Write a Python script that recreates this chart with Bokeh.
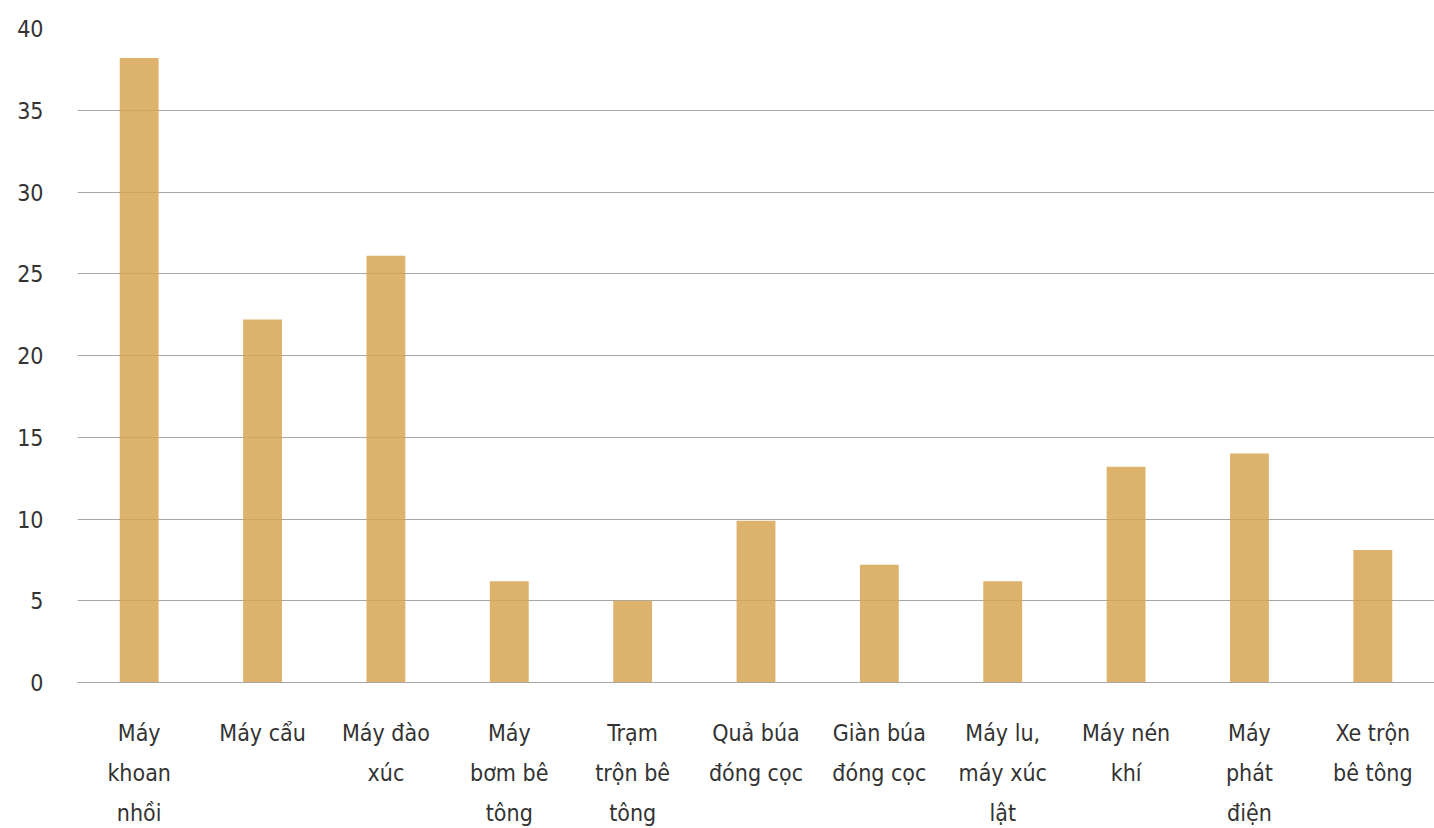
from bokeh.plotting import figure
from bokeh.models import FactorRange, Range1d, FixedTicker
from bokeh.embed import file_html
from bokeh.resources import INLINE

categories = ["Máy\nkhoan\nnhồi", "Máy cẩu", "Máy đào\nxúc", "Máy\nbơm bê\ntông",
              "Trạm\ntrộn bê\ntông", "Quả búa\nđóng cọc", "Giàn búa\nđóng cọc",
              "Máy lu,\nmáy xúc\nlật", "Máy nén\nkhí", "Máy\nphát\nđiện", "Xe trộn\nbê tông"]
values = [38.2, 22.2, 26.1, 6.2, 5.0, 9.9, 7.2, 6.2, 13.2, 14.0, 8.1]
y_ticks = [0, 5, 10, 15, 20, 25, 30, 35, 40]

FONT = "DejaVu Sans Condensed"

p = figure(x_range=FactorRange(*categories, range_padding=0), y_range=Range1d(0, 40),
           width=1434, height=828, output_backend="svg", toolbar_location=None,
           min_border_left=77, min_border_right=0, min_border_top=28, min_border_bottom=146)
p.outline_line_color = None
p.background_fill_color = "white"
p.border_fill_color = "white"

p.vbar(x=categories, top=values, width=0.315, fill_color="#d7a452", fill_alpha=0.85, line_color=None)

p.xgrid.grid_line_color = None
p.ygrid.grid_line_color = "#a6a6a6"
p.ygrid.grid_line_width = 1
p.ygrid.ticker = FixedTicker(ticks=y_ticks)

p.yaxis.ticker = FixedTicker(ticks=y_ticks)
p.yaxis.axis_line_color = None
p.yaxis.major_tick_line_color = None
p.yaxis.minor_tick_line_color = None
p.yaxis.major_label_text_font = FONT
p.yaxis.major_label_text_font_size = "23px"
p.yaxis.major_label_text_color = "#333333"
p.yaxis.major_label_standoff = 28

p.xaxis.axis_line_color = "#a6a6a6"
p.xaxis.axis_line_width = 1
p.xaxis.major_tick_line_color = None
p.xaxis.minor_tick_line_color = None
p.xaxis.major_label_text_font = FONT
p.xaxis.major_label_text_font_size = "23px"
p.xaxis.major_label_text_color = "#333333"
p.xaxis.major_label_text_line_height = 1.54
p.xaxis.major_label_standoff = 31

open("out.html", "w").write(file_html(p, INLINE))
